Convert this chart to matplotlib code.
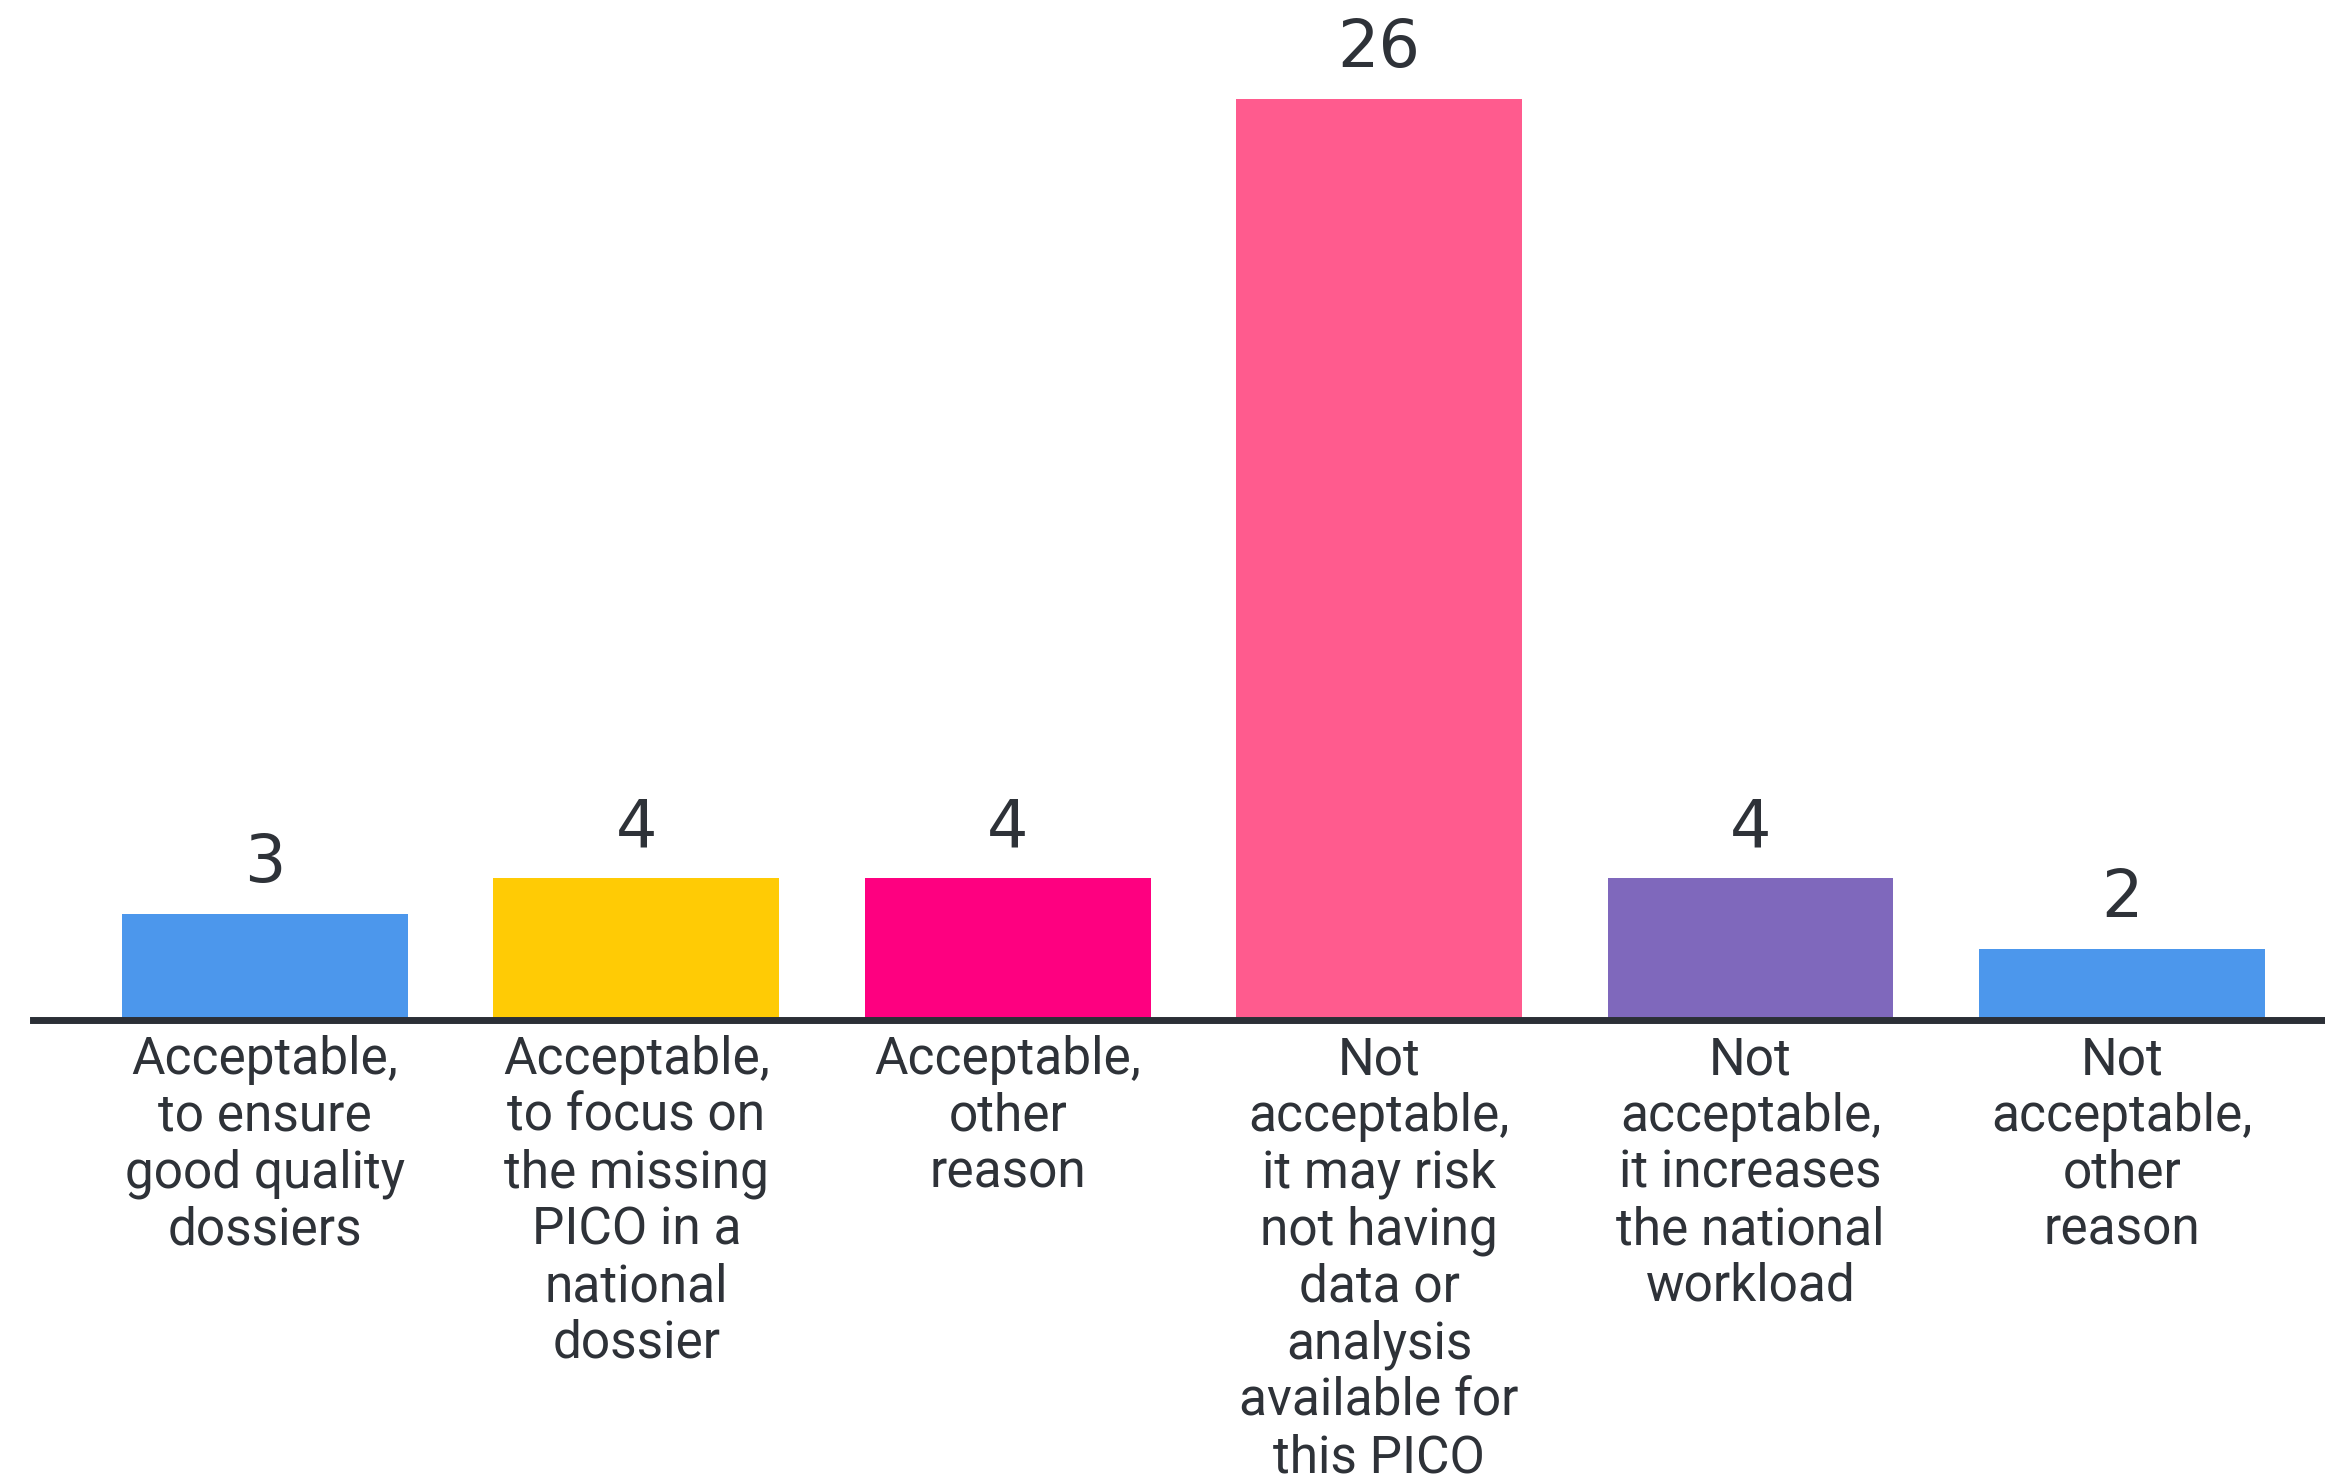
import matplotlib
matplotlib.use("Agg")
import matplotlib.pyplot as plt

categories = [
    "Acceptable,\nto ensure\ngood quality\ndossiers",
    "Acceptable,\nto focus on\nthe missing\nPICO in a\nnational\ndossier",
    "Acceptable,\nother\nreason",
    "Not\nacceptable,\nit may risk\nnot having\ndata or\nanalysis\navailable for\nthis PICO",
    "Not\nacceptable,\nit increases\nthe national\nworkload",
    "Not\nacceptable,\nother\nreason",
]
values = [3, 4, 4, 26, 4, 2]
colors = ["#4C97EC", "#FFCB05", "#FE0080", "#FF5B8E", "#7F68BC", "#4C97EC"]

text_color = "#2E3238"

fig = plt.figure(figsize=(23.25, 14.8), dpi=100)
ax = fig.add_axes([33 / 2325, 460 / 1480, 1 - 33 / 2325, 1020 / 1480])

x = list(range(len(values)))
bars = ax.bar(x, values, width=0.77, color=colors, zorder=1)

ax.set_xlim(-0.625, 5.547)
ax.set_ylim(0, 28.8)

for xi, v in zip(x, values):
    ax.annotate(str(v), (xi, v), xytext=(0, 13), textcoords="offset points",
                ha="center", va="bottom", fontsize=47, color=text_color,
                family=["DejaVu Sans"])

ax.set_xticks(x)
ax.set_xticklabels(categories, fontsize=37, color=text_color, linespacing=1.17,
                   family=["Roboto", "DejaVu Sans"])
ax.tick_params(axis="x", length=0, pad=11)
ax.set_yticks([])

for s in ["top", "left", "right"]:
    ax.spines[s].set_visible(False)
ax.spines["bottom"].set_color("#2B2F36")
ax.spines["bottom"].set_linewidth(5)
ax.spines["bottom"].set_zorder(3)

fig.savefig("out.png", dpi=100, facecolor="white")
